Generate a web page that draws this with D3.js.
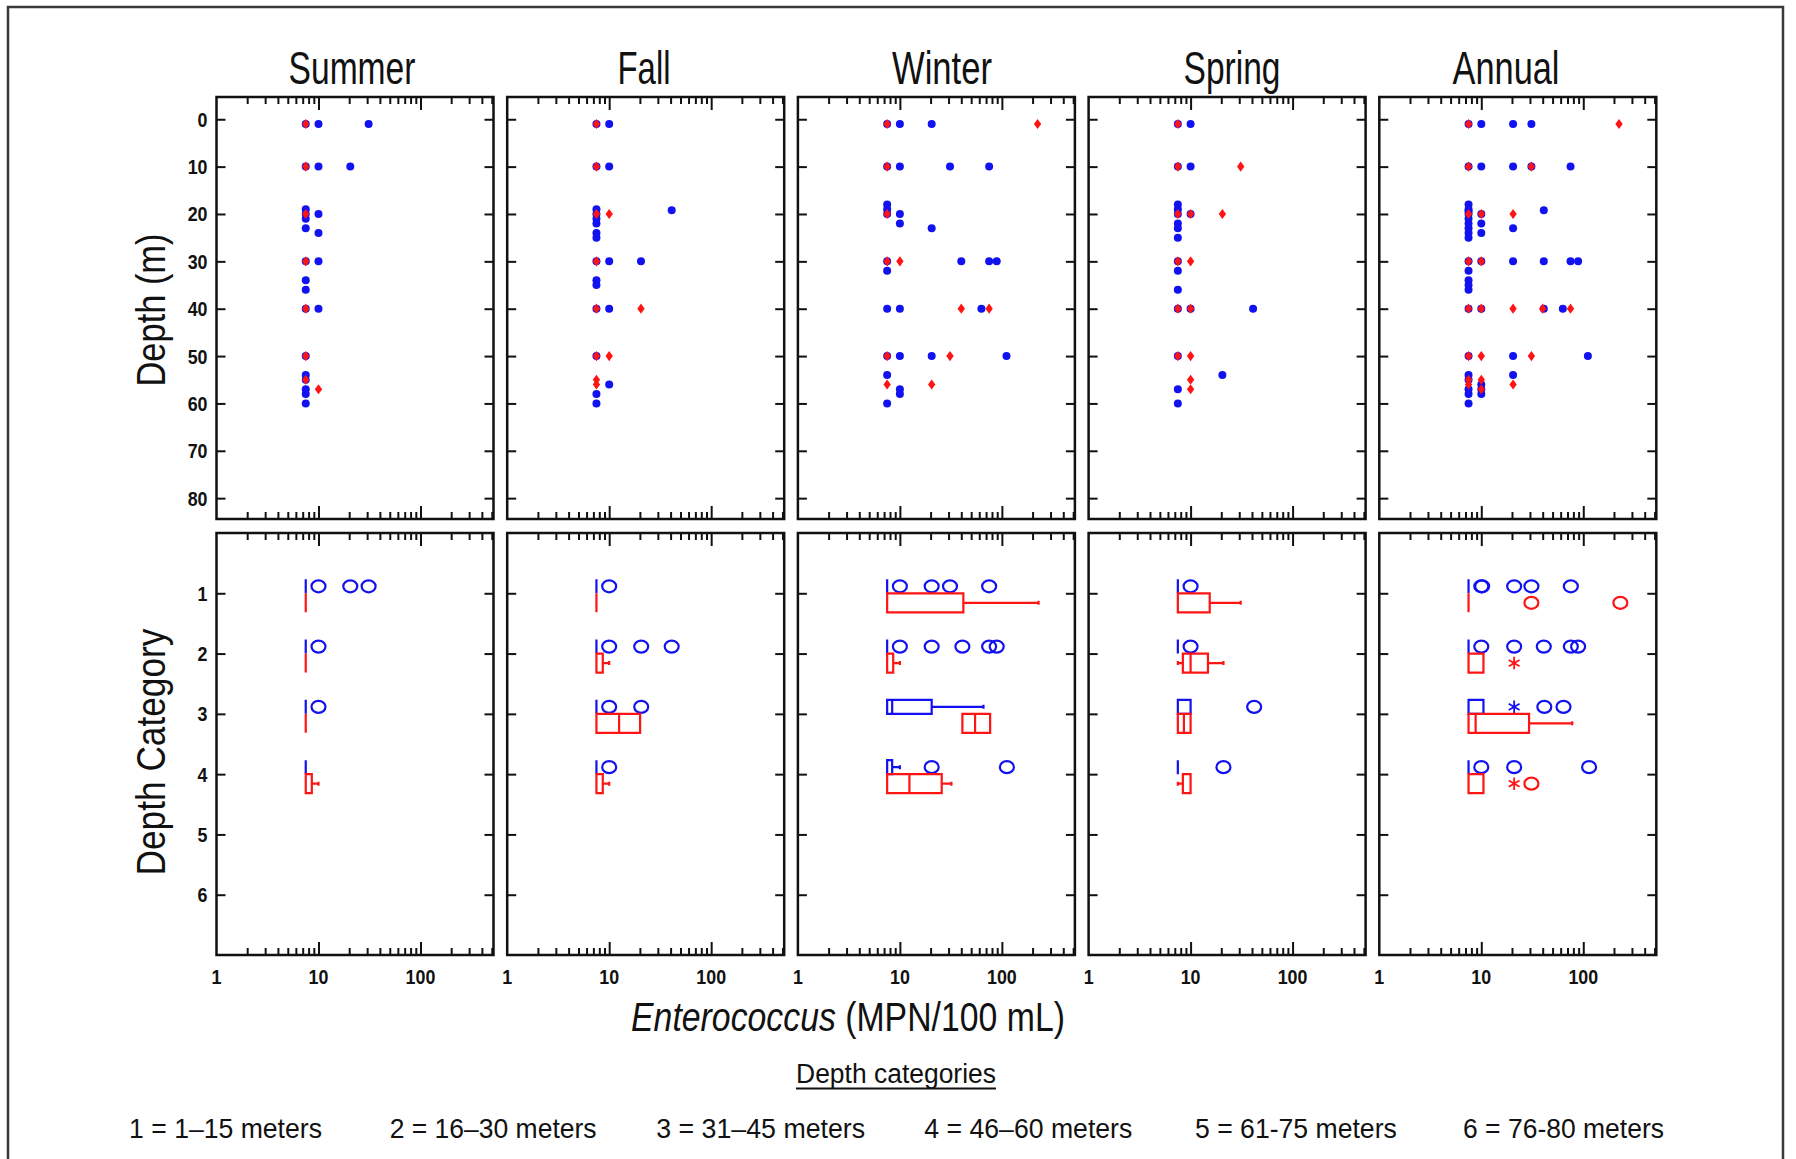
<!DOCTYPE html>
<html>
<head>
<meta charset="utf-8">
<script src="https://cdn.jsdelivr.net/npm/d3@7"></script>
<style>
  body { margin: 0; background: #fff; }
  svg { display: block; font-family: "Liberation Sans", Arial, sans-serif; }
</style>
</head>
<body>
<div id="chart"></div>
<script>
/****************************************/
/*****  Data   *****/
/****************************************/
const seasons = ["Summer", "Fall", "Winter", "Spring", "Annual"];
const depthTicks = [0, 10, 20, 30, 40, 50, 60, 70, 80];
const categoryTicks = [1, 2, 3, 4, 5, 6];
const valueTickLabels = [1, 10, 100];
const legendLabels = ["1 = 1–15 meters", "2 = 16–30 meters", "3 = 31–45 meters",
  "4 = 46–60 meters", "5 = 61-75 meters", "6 = 76-80 meters"];

// Scatter: [Enterococcus value, [depths (m) where it was measured]]
const summerBlue = [[7.5, [1, 10, 19, 20, 21, 23, 30, 34, 36, 40, 50, 54, 55, 57, 58, 60]],
  [10, [1, 10, 20, 24, 30, 40]], [20.5, [10]], [31, [1]]];
const summerRed = [[7.5, [1, 10, 20, 30, 40, 50, 55]], [10, [57]]];

const fallBlue = [[7.5, [1, 10, 19, 20, 21, 22, 24, 25, 30, 34, 35, 40, 50, 58, 60]],
  [10, [1, 10, 30, 40, 56]], [20.5, [30]], [41, [19.2]]];
const fallRed = [[7.5, [1, 10, 20, 30, 40, 50, 55, 56]], [10, [20, 50]], [20.5, [40]]];

const winterBlue = [[7.5, [1, 10, 18, 19, 20, 30, 32, 40, 50, 54, 60]],
  [10, [1, 10, 20, 22, 40, 50, 57, 58]], [20.5, [1, 23, 50]], [31, [10]], [40, [30]],
  [63, [40]], [75, [10, 30]], [89, [30]], [111, [50]]];
const winterRed = [[7.5, [1, 10, 20, 30, 50, 56]], [10, [30]], [20.5, [56]], [31, [50]],
  [40, [40]], [75, [40]], [224, [1]]];

const springBlue = [[7.5, [1, 10, 18, 19, 20, 22, 23, 25, 30, 32, 36, 40, 50, 57, 60]],
  [10, [1, 10, 20, 40]], [20.5, [54]], [41, [40]]];
const springRed = [[7.5, [1, 10, 20, 30, 40, 50]], [10, [20, 30, 40, 50, 55, 57]],
  [20.5, [20]], [31, [10]]];

const annualBlue = [[7.5, [1, 10, 18, 19, 19.5, 20, 21, 22, 23, 24, 25, 30, 32, 34, 35, 36, 40, 50, 54, 55, 57, 58, 60]],
  [10, [1, 10, 20, 22, 24, 30, 40, 56, 57, 58]], [20.5, [1, 10, 23, 30, 50, 54]], [31, [1, 10]],
  [41, [19.2, 30, 40]], [63, [40]], [75, [10, 30]], [89, [30]], [111, [50]]];
const annualRed = [[7.5, [1, 10, 20, 30, 40, 50, 55, 56]], [10, [20, 30, 40, 50, 55, 57]],
  [20.5, [20, 40, 56]], [31, [10, 50]], [40, [40]], [75, [40]], [224, [1]]];

// Box plots by depth category
const summerBlueBoxes = [
  { cat: 1, lo: 7.5, q1: 7.5, med: 7.5, q3: 7.5, hi: 7.5, circles: [10, 20.5, 31], stars: [] },
  { cat: 2, lo: 7.5, q1: 7.5, med: 7.5, q3: 7.5, hi: 7.5, circles: [10], stars: [] },
  { cat: 3, lo: 7.5, q1: 7.5, med: 7.5, q3: 7.5, hi: 7.5, circles: [10], stars: [] },
  { cat: 4, lo: 7.5, q1: 7.5, med: 7.5, q3: 7.5, hi: 7.5, circles: [], stars: [] }];
const summerRedBoxes = [
  { cat: 1, lo: 7.5, q1: 7.5, med: 7.5, q3: 7.5, hi: 7.5, circles: [], stars: [] },
  { cat: 2, lo: 7.5, q1: 7.5, med: 7.5, q3: 7.5, hi: 7.5, circles: [], stars: [] },
  { cat: 3, lo: 7.5, q1: 7.5, med: 7.5, q3: 7.5, hi: 7.5, circles: [], stars: [] },
  { cat: 4, lo: 7.5, q1: 7.5, med: 7.5, q3: 8.6, hi: 10, circles: [], stars: [] }];

const fallBlueBoxes = [
  { cat: 1, lo: 7.5, q1: 7.5, med: 7.5, q3: 7.5, hi: 7.5, circles: [10], stars: [] },
  { cat: 2, lo: 7.5, q1: 7.5, med: 7.5, q3: 7.5, hi: 7.5, circles: [10, 20.6, 41], stars: [] },
  { cat: 3, lo: 7.5, q1: 7.5, med: 7.5, q3: 7.5, hi: 7.5, circles: [10, 20.6], stars: [] },
  { cat: 4, lo: 7.5, q1: 7.5, med: 7.5, q3: 7.5, hi: 7.5, circles: [10], stars: [] }];
const fallRedBoxes = [
  { cat: 1, lo: 7.5, q1: 7.5, med: 7.5, q3: 7.5, hi: 7.5, circles: [], stars: [] },
  { cat: 2, lo: 7.5, q1: 7.5, med: 7.5, q3: 8.65, hi: 10, circles: [], stars: [] },
  { cat: 3, lo: 7.5, q1: 7.5, med: 12.5, q3: 20.1, hi: 20.1, circles: [], stars: [] },
  { cat: 4, lo: 7.5, q1: 7.5, med: 7.5, q3: 8.65, hi: 10, circles: [], stars: [] }];

const winterBlueBoxes = [
  { cat: 1, lo: 7.5, q1: 7.5, med: 7.5, q3: 7.5, hi: 7.5, circles: [10, 20.5, 31, 75], stars: [] },
  { cat: 2, lo: 7.5, q1: 7.5, med: 7.5, q3: 7.5, hi: 7.5, circles: [10, 20.5, 41, 75, 89], stars: [] },
  { cat: 3, lo: 7.5, q1: 7.5, med: 8.4, q3: 20.5, hi: 66, circles: [], stars: [] },
  { cat: 4, lo: 7.5, q1: 7.5, med: 7.5, q3: 8.4, hi: 10, circles: [20.5, 112], stars: [] }];
const winterRedBoxes = [
  { cat: 1, lo: 7.5, q1: 7.5, med: 7.5, q3: 41.9, hi: 229, circles: [], stars: [] },
  { cat: 2, lo: 7.5, q1: 7.5, med: 7.5, q3: 8.6, hi: 10, circles: [], stars: [] },
  { cat: 3, lo: 41, q1: 41, med: 54.6, q3: 76.7, hi: 76.7, circles: [], stars: [] },
  { cat: 4, lo: 7.5, q1: 7.5, med: 12.4, q3: 25.7, hi: 32, circles: [], stars: [] }];

const springBlueBoxes = [
  { cat: 1, lo: 7.5, q1: 7.5, med: 7.5, q3: 7.5, hi: 7.5, circles: [10], stars: [] },
  { cat: 2, lo: 7.5, q1: 7.5, med: 7.5, q3: 7.5, hi: 7.5, circles: [10], stars: [] },
  { cat: 3, lo: 7.5, q1: 7.5, med: 7.5, q3: 10, hi: 10, circles: [42], stars: [] },
  { cat: 4, lo: 7.5, q1: 7.5, med: 7.5, q3: 7.5, hi: 7.5, circles: [21], stars: [] }];
const springRedBoxes = [
  { cat: 1, lo: 7.5, q1: 7.5, med: 7.5, q3: 15.4, hi: 31, circles: [], stars: [] },
  { cat: 2, lo: 7.5, q1: 8.4, med: 10, q3: 14.8, hi: 21, circles: [], stars: [] },
  { cat: 3, lo: 7.5, q1: 7.5, med: 8.6, q3: 10, hi: 10, circles: [], stars: [] },
  { cat: 4, lo: 7.5, q1: 8.4, med: 8.4, q3: 10, hi: 10, circles: [], stars: [] }];

const annualBlueBoxes = [
  { cat: 1, lo: 7.5, q1: 7.5, med: 7.5, q3: 7.5, hi: 7.5, circles: [10, 10.2, 21, 31, 75.5], stars: [] },
  { cat: 2, lo: 7.5, q1: 7.5, med: 7.5, q3: 7.5, hi: 7.5, circles: [10, 21, 41, 75.5, 89], stars: [] },
  { cat: 3, lo: 7.5, q1: 7.5, med: 7.5, q3: 10.5, hi: 10.5, circles: [41.5, 64], stars: [21] },
  { cat: 4, lo: 7.5, q1: 7.5, med: 7.5, q3: 7.5, hi: 7.5, circles: [10, 21, 114], stars: [] }];
const annualRedBoxes = [
  { cat: 1, lo: 7.5, q1: 7.5, med: 7.5, q3: 7.5, hi: 7.5, circles: [31, 231], stars: [] },
  { cat: 2, lo: 7.5, q1: 7.5, med: 7.5, q3: 10.5, hi: 10.5, circles: [], stars: [21] },
  { cat: 3, lo: 7.5, q1: 7.5, med: 8.8, q3: 29.4, hi: 78, circles: [], stars: [] },
  { cat: 4, lo: 7.5, q1: 7.5, med: 7.5, q3: 10.5, hi: 10.5, circles: [31], stars: [21] }];

const scatterBlue = [summerBlue, fallBlue, winterBlue, springBlue, annualBlue];
const scatterRed = [summerRed, fallRed, winterRed, springRed, annualRed];
const boxesBlue = [summerBlueBoxes, fallBlueBoxes, winterBlueBoxes, springBlueBoxes, annualBlueBoxes];
const boxesRed = [summerRedBoxes, fallRedBoxes, winterRedBoxes, springRedBoxes, annualRedBoxes];

/****************************************/
/*****  Layout   *****/
/****************************************/
const width = 1796;
const height = 1159;
const panelLeft0 = 216.5;
const panelStep = 290.7;
const panelWidth = 277;
const topY = 97;
const bottomY = 533;
const panelHeight = 422;
const blue = '#1212f0';
const red = '#ff1414';

// title placement (centre, width)
const titleCenters = [352, 644, 942, 1232, 1506];
const titleWidths = [127, 53, 100, 97, 107];
const legendWidths = [193, 207, 209, 208, 202, 201];

const svg = d3.select('#chart')
  .append('svg')
    .attr('width', width)
    .attr('height', height);

// outer frame (open at the bottom)
svg.append('path')
  .attr('d', `M8,${height + 5} V7 H1783 V${height + 5}`)
  .attr('fill', 'none')
  .attr('stroke', '#3a3a3a')
  .attr('stroke-width', 2.5);

const xScale = d3.scaleLog().domain([1, 520]).range([0, panelWidth]);
const depthScale = d3.scaleLinear().domain([-4.7, 84.4]).range([0, panelHeight]);
const catScale = d3.scaleLinear().domain([0, 7]).range([0, panelHeight]);

const minorTicks = [2, 3, 4, 5, 6, 7, 8, 9, 20, 30, 40, 50, 60, 70, 80, 90, 200, 300, 400, 500];
const majorTicks = [10, 100];

// Condensed text: draw, measure, then squeeze horizontally
function placeText(parent, { x, y, parts, size, weight = 'normal', anchor = 'middle', rotate = 0, width: w, scale }) {
  const g = parent.append('g');
  const t = g.append('text')
    .attr('text-anchor', anchor)
    .attr('font-size', size)
    .attr('font-weight', weight)
    .attr('fill', '#111');
  parts.forEach(p => t.append('tspan').attr('font-style', p.italic ? 'italic' : null).text(p.text));
  const k = w ? w / t.node().getComputedTextLength() : scale;
  g.attr('transform', `translate(${x},${y}) rotate(${rotate}) scale(${k},1)`);
  return g;
}

function styleAxis(g) {
  g.select('.domain').remove();
  g.selectAll('line').attr('stroke', '#111').attr('stroke-width', 2);
}

function drawFrame(g, yScale, yTicks) {
  const addX = (ticks, len) => {
    g.append('g')
      .call(d3.axisTop(xScale).tickValues(ticks).tickSize(-len).tickFormat(''))
      .call(styleAxis);
    g.append('g')
      .attr('transform', `translate(0,${panelHeight})`)
      .call(d3.axisBottom(xScale).tickValues(ticks).tickSize(-len).tickFormat(''))
      .call(styleAxis);
  };
  addX(minorTicks, 7);
  addX(majorTicks, 13);
  g.append('g')
    .call(d3.axisLeft(yScale).tickValues(yTicks).tickSize(-9).tickFormat(''))
    .call(styleAxis);
  g.append('g')
    .attr('transform', `translate(${panelWidth},0)`)
    .call(d3.axisRight(yScale).tickValues(yTicks).tickSize(-9).tickFormat(''))
    .call(styleAxis);
  g.append('rect')
    .attr('width', panelWidth)
    .attr('height', panelHeight)
    .attr('fill', 'none')
    .attr('stroke', '#111')
    .attr('stroke-width', 2.5);
}

const flatten = groups => groups.flatMap(([v, depths]) => depths.map(d => ({ v, d })));

function drawBoxes(g, boxes, color, off0, off1) {
  const groups = g.selectAll(null)
    .data(boxes)
    .join('g')
      .attr('fill', 'none')
      .attr('stroke', color)
      .attr('stroke-width', 2.2);
  const y0 = d => catScale(d.cat) + off0;
  const y1 = d => catScale(d.cat) + off1;
  const ym = d => catScale(d.cat) + (off0 + off1) / 2;

  groups.filter(d => d.lo < d.q1).append('path')
    .attr('d', d => `M${xScale(d.lo)},${ym(d)} H${xScale(d.q1)} M${xScale(d.lo)},${ym(d) - 2} V${ym(d) + 2}`);
  groups.filter(d => d.hi > d.q3).append('path')
    .attr('d', d => `M${xScale(d.q3)},${ym(d)} H${xScale(d.hi)} M${xScale(d.hi)},${ym(d) - 2} V${ym(d) + 2}`);
  groups.append('path')
    .attr('d', d => `M${xScale(d.q1)},${y0(d)} H${xScale(d.q3)} V${y1(d)} H${xScale(d.q1)} Z`);
  groups.filter(d => d.med > d.q1 && d.med < d.q3).append('line')
    .attr('x1', d => xScale(d.med))
    .attr('x2', d => xScale(d.med))
    .attr('y1', y0)
    .attr('y2', y1);

  groups.selectAll('ellipse')
    .data(d => d.circles.map(v => ({ v, y: ym(d) })))
    .join('ellipse')
      .attr('cx', d => xScale(d.v))
      .attr('cy', d => d.y)
      .attr('rx', 7)
      .attr('ry', 6);
  groups.selectAll('.star')
    .data(d => d.stars.map(v => ({ v, y: ym(d) })))
    .join('path')
      .attr('class', 'star')
      .attr('stroke-width', 1.8)
      .attr('transform', d => `translate(${xScale(d.v)},${d.y})`)
      .attr('d', d3.symbol(d3.symbolAsterisk, 110));
}

/****************************************/
/*****  Panels   *****/
/****************************************/
seasons.forEach((season, i) => {
  const x0 = panelLeft0 + i * panelStep;

  placeText(svg, { x: titleCenters[i], y: 84, parts: [{ text: season }], size: 47, width: titleWidths[i] });

  // depth scatter
  const top = svg.append('g').attr('transform', `translate(${x0},${topY})`);
  drawFrame(top, depthScale, depthTicks);
  top.append('g')
    .selectAll('circle')
    .data(flatten(scatterBlue[i]))
    .join('circle')
      .attr('cx', d => xScale(d.v))
      .attr('cy', d => depthScale(d.d))
      .attr('r', 4)
      .attr('fill', blue);
  top.append('g')
    .selectAll('path')
    .data(flatten(scatterRed[i]))
    .join('path')
      .attr('transform', d => `translate(${xScale(d.v)},${depthScale(d.d)}) scale(1.25,1)`)
      .attr('d', d3.symbol(d3.symbolDiamond, 30))
      .attr('fill', red);

  // depth category box plots
  const bottom = svg.append('g').attr('transform', `translate(${x0},${bottomY})`);
  drawFrame(bottom, catScale, categoryTicks);
  drawBoxes(bottom, boxesBlue[i], blue, -14, 0);
  drawBoxes(bottom, boxesRed[i], red, 0, 19);

  valueTickLabels.forEach(v => {
    placeText(svg, { x: x0 + xScale(v), y: 984, parts: [{ text: String(v) }], size: 21, weight: 'bold', scale: 0.85 });
  });

  if (i === 0) {
    depthTicks.forEach(t => {
      placeText(svg, { x: x0 - 9, y: topY + depthScale(t) + 7.5, parts: [{ text: String(t) }], size: 21, weight: 'bold', anchor: 'end', scale: 0.85 });
    });
    categoryTicks.forEach(t => {
      placeText(svg, { x: x0 - 9, y: bottomY + catScale(t) + 7.5, parts: [{ text: String(t) }], size: 21, weight: 'bold', anchor: 'end', scale: 0.85 });
    });
  }
});

/****************************************/
/*****  Axis titles and legend   *****/
/****************************************/
placeText(svg, { x: 165, y: 310, parts: [{ text: 'Depth (m)' }], size: 41, rotate: -90, width: 153 });
placeText(svg, { x: 165, y: 752, parts: [{ text: 'Depth Category' }], size: 41, rotate: -90, width: 247 });
placeText(svg, { x: 848, y: 1031, parts: [{ text: 'Enterococcus', italic: true }, { text: ' (MPN/100 mL)' }], size: 41, width: 434 });

placeText(svg, { x: 896, y: 1083, parts: [{ text: 'Depth categories' }], size: 27, width: 200 });
svg.append('line')
  .attr('x1', 796).attr('x2', 996)
  .attr('y1', 1088.5).attr('y2', 1088.5)
  .attr('stroke', '#111')
  .attr('stroke-width', 1.8);

legendLabels.forEach((label, i) => {
  placeText(svg, { x: 225.5 + i * 267.6, y: 1138, parts: [{ text: label }], size: 28, width: legendWidths[i] });
});
</script>
</body>
</html>
